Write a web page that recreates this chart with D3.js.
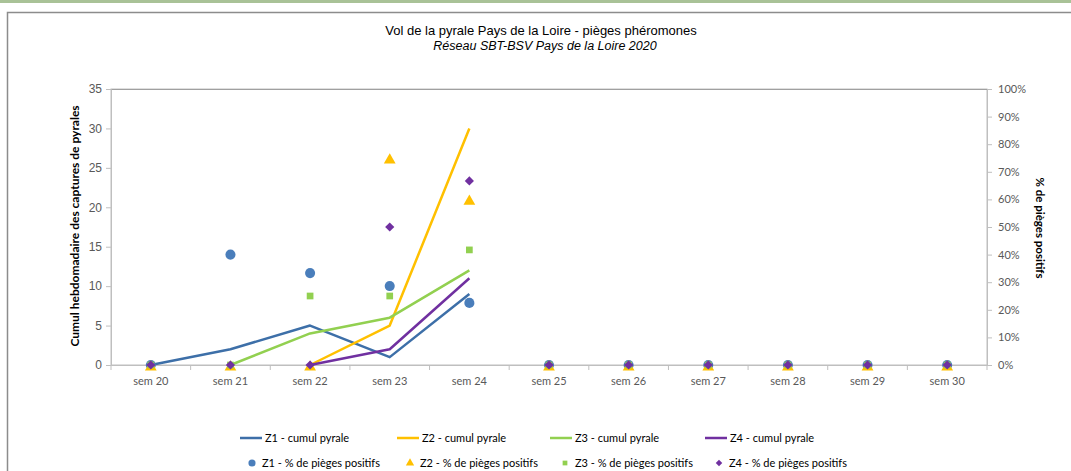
<!DOCTYPE html>
<html>
<head>
<meta charset="utf-8">
<style>
    body { margin: 0; background: #fff; overflow: hidden; }
    svg { display: block; }
    .title { font-family: "Liberation Sans", Arial, sans-serif; font-size: 13px; fill: #000; }
    .tick text { fill: #595959; }
    .axis-y text { font-family: "Liberation Sans", Arial, sans-serif; font-size: 12px; }
    .axis-r text, .axis-x text { font-family: Lato, "Open Sans", sans-serif; font-size: 11px; }
    .atitle { font-family: Lato, "Open Sans", sans-serif; font-size: 12px; font-weight: bold; fill: #000; }
    .legend text { font-family: Lato, "Open Sans", sans-serif; font-size: 11px; fill: #000; }
</style>
</head>
<body>
<script src="https://d3js.org/d3.v7.min.js"></script>
<script>
// semaines
var weeks = ["sem 20", "sem 21", "sem 22", "sem 23", "sem 24", "sem 25", "sem 26", "sem 27", "sem 28", "sem 29", "sem 30"];

// cumul hebdomadaire des captures (axe gauche)
var cumulZ1 = [0, 2, 5, 1, 9, null, null, null, null, null, null];
var cumulZ2 = [null, null, 0, 5, 30, null, null, null, null, null, null];
var cumulZ3 = [null, 0, 4, 6, 12, null, null, null, null, null, null];
var cumulZ4 = [null, null, 0, 2, 11, null, null, null, null, null, null];

// % de pièges positifs (axe droit)
var pctZ1 = [0, 0.40, 0.333, 0.286, 0.225, 0, 0, 0, 0, 0, 0];
var pctZ2 = [0, 0, 0, 0.75, 0.60, 0, 0, 0, 0, 0, 0];
var pctZ3 = [0, 0, 0.25, 0.25, 0.417, 0, 0, 0, 0, 0, 0];
var pctZ4 = [0, 0, 0, 0.50, 0.667, 0, 0, 0, 0, 0, 0];

var leftTicks = [0, 5, 10, 15, 20, 25, 30, 35];
var rightTicks = [0, 0.1, 0.2, 0.3, 0.4, 0.5, 0.6, 0.7, 0.8, 0.9, 1];

var zones = ["Z1", "Z2", "Z3", "Z4"];
var colors = ["#4a7ebb", "#ffc000", "#92d050", "#7030a0"];
var lineColors = ["#3d6fa8", "#ffc000", "#92d050", "#7030a0"];
var cumuls = [cumulZ1, cumulZ2, cumulZ3, cumulZ4];
var pcts = [pctZ1, pctZ2, pctZ3, pctZ4];
// le losange = carré tourné de 45°
var shapes = [d3.symbolCircle, d3.symbolTriangle, d3.symbolSquare, d3.symbolSquare];
var shapeSizes = [80, 60, 45, 42];
var rot = [0, 0, 0, 45];

var W = 1071, H = 471;
var svg = d3.select("body").append("svg").attr("width", W).attr("height", H);

// bandeau + cadre du graphique
svg.append("rect").attr("x", 0).attr("y", 0).attr("width", W).attr("height", 3).attr("fill", "#a9c297");
svg.append("rect").attr("x", 7.5).attr("y", 12.5).attr("width", W + 10).attr("height", H + 10)
    .attr("fill", "#fff").attr("stroke", "#8c8c8c").attr("stroke-width", 1.5);

svg.append("text").attr("class", "title").attr("x", 541).attr("y", 35).attr("text-anchor", "middle")
    .text("Vol de la pyrale Pays de la Loire - pièges phéromones");
svg.append("text").attr("class", "title").attr("x", 545).attr("y", 50).attr("text-anchor", "middle")
    .style("font-style", "italic").style("font-size", "12.5px")
    .text("Réseau SBT-BSV Pays de la Loire 2020");

var x = d3.scaleBand().domain(weeks).range([111, 987]);
var y = d3.scaleLinear().domain([0, 35]).range([365, 89]);
var y2 = d3.scaleLinear().domain([0, 1]).range([365, 89]);

// cadre de la zone de tracé
svg.append("rect").attr("x", 111).attr("y", 89).attr("width", 876).attr("height", 276)
    .attr("fill", "none").attr("stroke", "#bfbfbf");
svg.append("line").attr("x1", 111).attr("x2", 987).attr("y1", 89.5).attr("y2", 89.5).attr("stroke", "#a0a0a0");

var gy = svg.append("g").attr("class", "axis-y").attr("transform", "translate(111,0)")
    .call(d3.axisLeft(y).tickValues(leftTicks).tickSize(5).tickPadding(4));
var gr = svg.append("g").attr("class", "axis-r").attr("transform", "translate(987,0)")
    .call(d3.axisRight(y2).tickValues(rightTicks).tickSize(5).tickPadding(6).tickFormat(d3.format(".0%")));
var gx = svg.append("g").attr("class", "axis-x").attr("transform", "translate(0,365)")
    .call(d3.axisBottom(x).tickSize(0).tickPadding(12));
[gy, gr, gx].forEach(function(g) {
    g.select(".domain").attr("stroke", "#bfbfbf");
    g.selectAll(".tick line").attr("stroke", "#bfbfbf");
});
// graduations entre les catégories
svg.append("g").selectAll("line").data(weeks.concat(["end"])).enter().append("line")
    .attr("x1", function(d, i) { return 111 + i * x.step(); })
    .attr("x2", function(d, i) { return 111 + i * x.step(); })
    .attr("y1", 365).attr("y2", 370).attr("stroke", "#bfbfbf");

svg.append("text").attr("class", "atitle").attr("transform", "translate(79,226) rotate(-90)")
    .attr("text-anchor", "middle").text("Cumul hebdomadaire des captures de pyrales");
svg.append("text").attr("class", "atitle").attr("transform", "translate(1036,228) rotate(90)")
    .attr("text-anchor", "middle").style("font-size", "11.5px").text("% de pièges positifs");

// courbes
var line = d3.line()
    .defined(function(d) { return d != null; })
    .x(function(d, i) { return x(weeks[i]) + x.bandwidth() / 2; })
    .y(function(d) { return y(d); });

cumuls.forEach(function(s, k) {
    svg.append("path").attr("d", line(s)).attr("fill", "none")
        .attr("stroke", lineColors[k]).attr("stroke-width", 2.5).attr("stroke-linejoin", "round");
});

// marqueurs
pcts.forEach(function(s, k) {
    svg.append("g").selectAll("path").data(s).enter().append("path")
        .attr("d", d3.symbol().type(shapes[k]).size(shapeSizes[k]))
        .attr("transform", function(d, i) {
            var dy = k == 1 ? 2 : 0;
            return "translate(" + (x(weeks[i]) + x.bandwidth() / 2) + "," + (y2(d) + dy) + ") rotate(" + rot[k] + ")";
        })
        .attr("fill", colors[k]);
});

// légende
var leg = svg.append("g").attr("class", "legend");
var lx = [240, 397, 550, 705];
zones.forEach(function(z, k) {
    leg.append("line").attr("x1", lx[k]).attr("x2", lx[k] + 22).attr("y1", 438).attr("y2", 438)
        .attr("stroke", lineColors[k]).attr("stroke-width", 2.5);
    leg.append("text").attr("x", lx[k] + 25).attr("y", 442).text(z + " - cumul pyrale");
});
var mx = [252, 410, 565, 719];
zones.forEach(function(z, k) {
    leg.append("path").attr("d", d3.symbol().type(shapes[k]).size(shapeSizes[k] * 0.5))
        .attr("transform", "translate(" + mx[k] + ",463) rotate(" + rot[k] + ")").attr("fill", colors[k]);
    leg.append("text").attr("x", mx[k] + 10).attr("y", 467).text(z + " - % de pièges positifs");
});
</script>
</body>
</html>
